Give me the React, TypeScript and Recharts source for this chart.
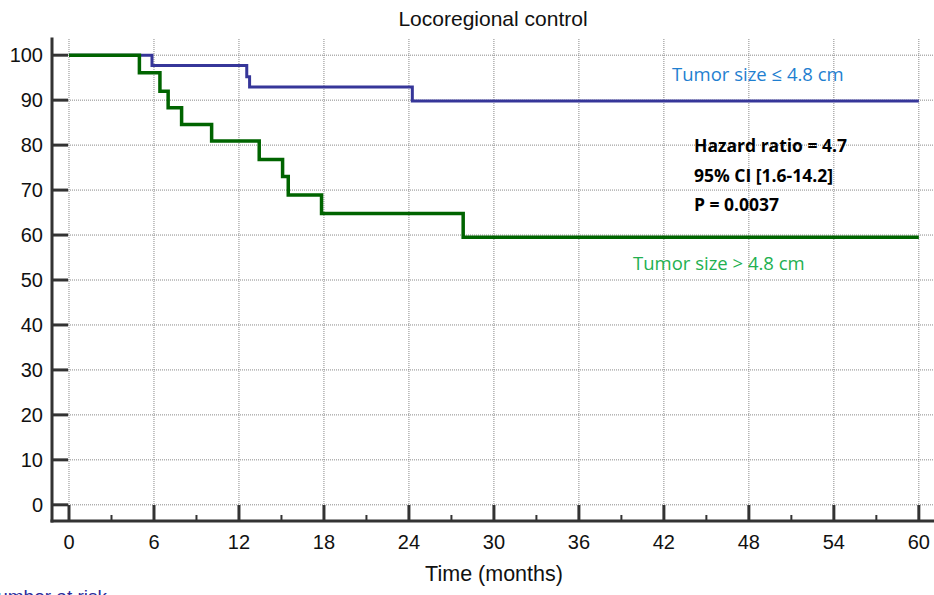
import React from 'react';
import { LineChart, Line, XAxis, YAxis, CartesianGrid, Customized } from 'recharts';

// Kaplan-Meier curves (time in months, survival %)
const smallTimes = [0, 5.86, 12.55, 12.75, 24.24, 60];
const smallSurvival = [100, 97.7, 95.2, 92.9, 89.8, 89.8];
const largeTimes = [0, 4.97, 6.42, 7.0, 7.95, 10.07, 13.43, 15.08, 15.48, 17.83, 27.83, 60];
const largeSurvival = [100, 96.1, 92.0, 88.3, 84.6, 80.9, 76.8, 73.0, 68.9, 64.8, 59.5, 59.5];

const xTicks = [0, 3, 6, 9, 12, 15, 18, 21, 24, 27, 30, 33, 36, 39, 42, 45, 48, 51, 54, 57, 60];
const xMajorTicks = [0, 6, 12, 18, 24, 30, 36, 42, 48, 54, 60];
const yTicks = [0, 10, 20, 30, 40, 50, 60, 70, 80, 90, 100];

const title = 'Locoregional control';
const xLabel = 'Time (months)';
const smallLabel = 'Tumor size ≤ 4.8 cm';
const largeLabel = 'Tumor size > 4.8 cm';
const statLines = ['Hazard ratio = 4.7', '95% CI [1.6-14.2]', 'P = 0.0037'];
const riskLabel = 'Number at risk';

const smallData = smallTimes.map((t, i) => ({ t, s: smallSurvival[i] }));
const largeData = largeTimes.map((t, i) => ({ t, s: largeSurvival[i] }));

const AXIS_FONT = '"Liberation Sans", Arial, Helvetica, sans-serif';
const NOTE_FONT = '"Open Sans", "Noto Sans", sans-serif';
const AXIS_COLOR = '#333';

const XTick = (props: any) => {
  const { x, y, payload } = props;
  const v = payload.value;
  const major = v % 6 === 0;
  return (
    <g>
      <line x1={x} x2={x} y1={y} y2={y - (major ? 16 : 6)} stroke={AXIS_COLOR} strokeWidth={major ? 3 : 2} />
      {major && (
        <text x={x} y={y + 28} textAnchor="middle" fontSize={20} fill="#111" fontFamily={AXIS_FONT}>
          {v}
        </text>
      )}
    </g>
  );
};

const YTick = (props: any) => {
  const { x, y, payload } = props;
  return (
    <g>
      <line x1={x} x2={x + 16} y1={y} y2={y} stroke={AXIS_COLOR} strokeWidth={3} />
      <text x={x - 9} y={y + 7} textAnchor="end" fontSize={20} fill="#111" fontFamily={AXIS_FONT}>
        {payload.value}
      </text>
    </g>
  );
};

const Annotations = () => (
  <g>
    <text x={493} y={26} textAnchor="middle" fontSize={21} fill="#111" fontFamily={AXIS_FONT}>
      {title}
    </text>
    <text x={494} y={581} textAnchor="middle" fontSize={21.5} fill="#111" fontFamily={AXIS_FONT}>
      {xLabel}
    </text>
    <text x={107} y={603} textAnchor="end" fontSize={19} fill="#2b2b9b" fontFamily={AXIS_FONT}>
      {riskLabel}
    </text>
    <text x={672} y={81} fontSize={18.5} fill="#1f7fd0" fontFamily={NOTE_FONT}>
      {smallLabel}
    </text>
    <text x={633} y={270} fontSize={18.5} fill="#22b050" fontFamily={NOTE_FONT}>
      {largeLabel}
    </text>
    {statLines.map((s, i) => (
      <text key={s} x={694} y={152 + i * 29.5} fontSize={17.5} fontWeight="bold" fill="#000" fontFamily={NOTE_FONT}>
        {s}
      </text>
    ))}
  </g>
);

export default function App() {
  return (
    <div style={{ position: 'absolute', left: 0, top: 0, width: 934, height: 595, background: '#fff', overflow: 'hidden' }}>
      <LineChart width={934} height={595} margin={{ top: 39, right: 1, bottom: 14, left: 0 }}>
        <CartesianGrid
          horizontalValues={yTicks}
          verticalValues={xMajorTicks}
          stroke="#888"
          strokeDasharray="1 1"
          strokeWidth={1}
        />
        <XAxis
          dataKey="t"
          type="number"
          domain={[-1.2, 61.0]}
          allowDataOverflow
          ticks={xTicks}
          interval={0}
          tickSize={0}
          tickMargin={0}
          tickLine={false}
          tick={<XTick />}
          height={60}
          axisLine={{ stroke: AXIS_COLOR, strokeWidth: 3, strokeLinecap: 'square' }}
        />
        <YAxis
          type="number"
          domain={[-3.6, 103.6]}
          allowDataOverflow
          ticks={yTicks}
          interval={0}
          tickSize={0}
          tickMargin={0}
          tickLine={false}
          tick={<YTick />}
          width={52}
          axisLine={{ stroke: AXIS_COLOR, strokeWidth: 3, strokeLinecap: 'square' }}
        />
        <Line
          data={smallData}
          dataKey="s"
          type="stepAfter"
          stroke="#363699"
          strokeWidth={3}
          dot={false}
          activeDot={false}
          isAnimationActive={false}
        />
        <Line
          data={largeData}
          dataKey="s"
          type="stepAfter"
          stroke="#006400"
          strokeWidth={3.5}
          dot={false}
          activeDot={false}
          isAnimationActive={false}
        />
        <Customized component={Annotations} />
      </LineChart>
    </div>
  );
}
